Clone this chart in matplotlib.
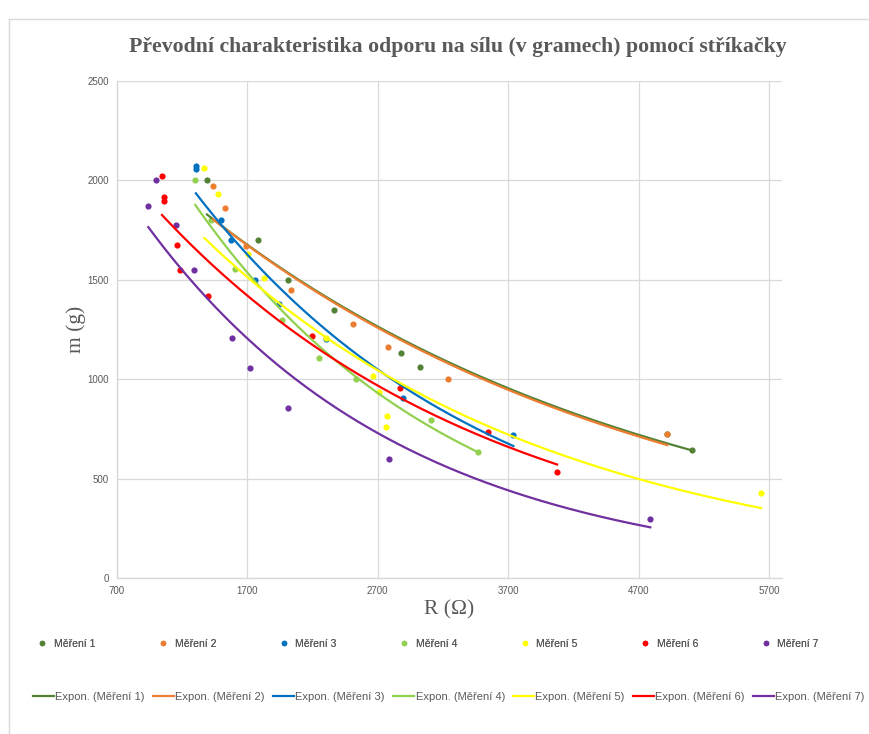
import numpy as np
import matplotlib
matplotlib.use("Agg")
import matplotlib.pyplot as plt
from matplotlib.lines import Line2D

# ---- data ----
R1 = [1390, 1780, 2010, 2365, 2880, 3025, 4920, 5110]
m1 = [2000, 1700, 1500, 1350, 1130, 1060, 725, 645]
R2 = [1435, 1530, 1690, 2035, 2510, 2780, 3235, 4920]
m2 = [1970, 1860, 1670, 1450, 1280, 1160, 1000, 725]
R3 = [1305, 1305, 1500, 1575, 1760, 1945, 2305, 2895, 3740]
m3 = [2070, 2055, 1800, 1700, 1500, 1380, 1200, 905, 720]
R4 = [1300, 1420, 1605, 1965, 2250, 2535, 3110, 3470]
m4 = [2000, 1800, 1555, 1300, 1105, 1000, 795, 635]
R5 = [1370, 1475, 1705, 1830, 2305, 2665, 2710, 2770, 2765, 5640]
m5 = [2060, 1930, 1630, 1510, 1205, 1015, 935, 815, 760, 430]
R6 = [1045, 1060, 1060, 1160, 1185, 1400, 2195, 2870, 3545, 4075]
m6 = [2020, 1915, 1895, 1675, 1550, 1420, 1215, 955, 735, 535]
R7 = [940, 1000, 1155, 1290, 1585, 1720, 2010, 2785, 4790]
m7 = [1870, 2000, 1775, 1550, 1205, 1055, 855, 600, 295]

names = ["Měření 1", "Měření 2", "Měření 3", "Měření 4", "Měření 5", "Měření 6", "Měření 7"]
colors = ["#548235", "#ED7D31", "#0070C0", "#92D050", "#FFFF00", "#FF0000", "#7030A0"]
xticks = [700, 1700, 2700, 3700, 4700, 5700]
yticks = [0, 500, 1000, 1500, 2000, 2500]

series = [(R1, m1), (R2, m2), (R3, m3), (R4, m4), (R5, m5), (R6, m6), (R7, m7)]

W, H = 869, 734
fig = plt.figure(figsize=(W / 100, H / 100), dpi=100)
ax = fig.add_axes([117 / W, 1 - 578 / H, (782 - 117) / W, (578 - 81) / H])

txt = "#595959"
grid = "#D9D9D9"

for (R, m), c in zip(series, colors):
    ax.scatter(R, m, s=20, color=c, zorder=2, linewidths=0)

for (R, m), c in zip(series, colors):
    R = np.asarray(R, float)
    m = np.asarray(m, float)
    b, lna = np.polyfit(R, np.log(m), 1)
    xs = np.linspace(R.min(), R.max(), 200)
    ax.plot(xs, np.exp(lna) * np.exp(b * xs), color=c, lw=1.6, zorder=3)

ax.set_xlim(700, 5800)
ax.set_ylim(0, 2500)
ax.set_xticks(xticks)
ax.set_yticks(yticks)
ax.tick_params(length=0, labelsize=7, labelcolor=txt, pad=6)
for lab in ax.get_xticklabels() + ax.get_yticklabels():
    lab.set_family("Liberation Sans")
ax.grid(True, color=grid, lw=0.9, zorder=0)
ax.set_axisbelow(True)
for s in ["top", "right"]:
    ax.spines[s].set_visible(False)
for s in ["left", "bottom"]:
    ax.spines[s].set_color(grid)
    ax.spines[s].set_linewidth(1.0)

ax.set_xlabel("R (Ω)", family="Liberation Serif", fontsize=15.5, color=txt, labelpad=3)
ax.set_ylabel("m (g)", family="Liberation Serif", fontsize=15.5, color=txt, labelpad=1)

fig.text(458 / W, 1 - 47 / H, "Převodní charakteristika odporu na sílu (v gramech) pomocí stříkačky",
         family="Liberation Serif", fontweight="bold", fontsize=15.7, color=txt,
         ha="center", va="center")

# chart border
fig.add_artist(Line2D([9 / W, 9 / W], [0, 1 - 19 / H], transform=fig.transFigure, color=grid, lw=1))
fig.add_artist(Line2D([9 / W, 1], [1 - 19 / H, 1 - 19 / H], transform=fig.transFigure, color=grid, lw=1))

# legends
mk_handles = [Line2D([], [], ls="none", marker="o", markersize=4, color=c, markeredgewidth=0) for c in colors]
ln_handles = [Line2D([], [], color=c, lw=1.6) for c in colors]
leg1 = fig.legend(mk_handles, names, ncol=7, loc="center", bbox_to_anchor=(428 / W, 1 - 644 / H),
                  frameon=False, prop={"family": "Liberation Sans", "size": 7.5},
                  handlelength=1.0, handletextpad=0.6, columnspacing=6.0, labelcolor=txt)
leg2 = fig.legend(ln_handles, ["Expon. (" + n + ")" for n in names], ncol=7, loc="center",
                  bbox_to_anchor=(449 / W, 1 - 697 / H), frameon=False,
                  prop={"family": "Liberation Sans", "size": 8},
                  handlelength=1.9, handletextpad=0.1, columnspacing=0.75, labelcolor=txt)
fig.add_artist(leg1)

fig.savefig("out.png", dpi=100, facecolor="white")
